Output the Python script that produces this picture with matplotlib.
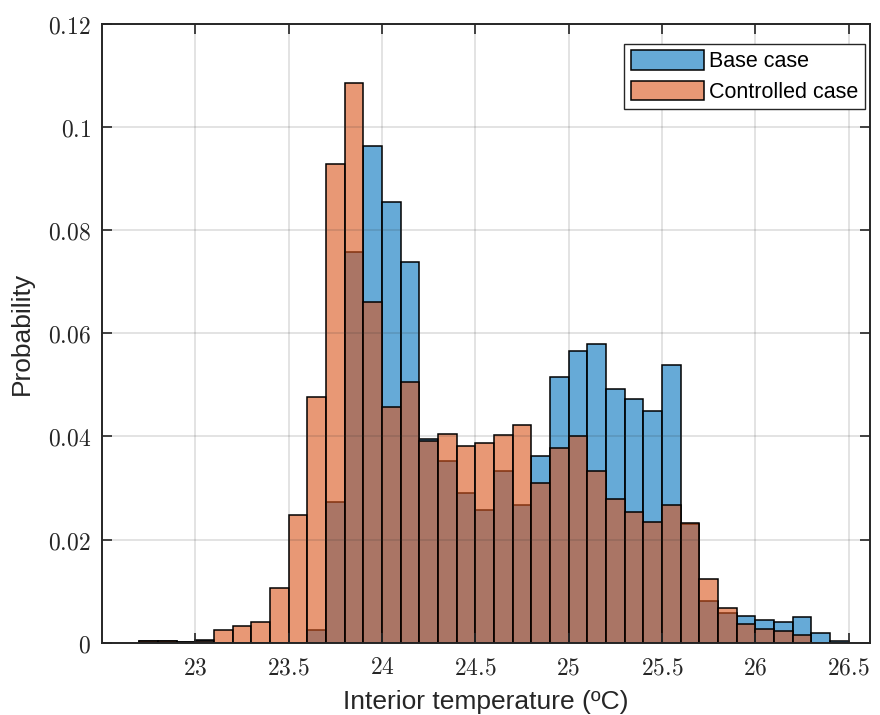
import numpy as np
import matplotlib
matplotlib.use("Agg")
import matplotlib.pyplot as plt
from matplotlib.ticker import FuncFormatter

plt.rcParams["mathtext.fontset"] = "cm"

# histogram bins of width 0.1 degC, left edges from 22.7 to 26.4
bin_edges = np.round(np.arange(22.7, 26.55, 0.1), 1)

base_prob = [
    0.0004, 0.0004, 0.0002, 0.0005, 0.0, 0.0, 0.0, 0.0, 0.0, 0.0025,
    0.0273, 0.0757, 0.0964, 0.0855, 0.0739, 0.0395, 0.0352, 0.0290, 0.0257, 0.0334,
    0.0268, 0.0363, 0.0515, 0.0566, 0.0579, 0.0493, 0.0472, 0.0450, 0.0538, 0.0230,
    0.0080, 0.0058, 0.0051, 0.0045, 0.0040, 0.0049, 0.0019, 0.0003,
]
controlled_prob = [
    0.0003, 0.0003, 0.0002, 0.0004, 0.0025, 0.0032, 0.0041, 0.0107, 0.0248, 0.0476,
    0.0928, 0.1085, 0.0660, 0.0457, 0.0505, 0.0392, 0.0405, 0.0382, 0.0387, 0.0403,
    0.0422, 0.0310, 0.0377, 0.0401, 0.0334, 0.0279, 0.0253, 0.0235, 0.0268, 0.0233,
    0.0124, 0.0067, 0.0037, 0.0026, 0.0023, 0.0014, 0.0, 0.0,
]
labels = ["Base case", "Controlled case"]

x_ticks = [23, 23.5, 24, 24.5, 25, 25.5, 26, 26.5]
y_ticks = [0, 0.02, 0.04, 0.06, 0.08, 0.1, 0.12]

blue = (0.0, 0.447, 0.741, 0.6)
orange = (0.85, 0.325, 0.098, 0.6)
dark = "#262626"

fig = plt.figure(figsize=(8.8, 7.15), dpi=100)
ax = fig.add_axes([0.1159, 0.1011, 0.8727, 0.8653])

lefts = bin_edges[:-1]
widths = np.diff(bin_edges)
ax.bar(lefts, base_prob, width=widths, align="edge", facecolor=blue,
       edgecolor="black", linewidth=1.1, label=labels[0])
ax.bar(lefts, controlled_prob, width=widths, align="edge", facecolor=orange,
       edgecolor="black", linewidth=1.1, label=labels[1])

ax.set_xlim(22.5, 26.615)
ax.set_ylim(0, 0.12)
ax.set_xticks(x_ticks)
ax.set_yticks(y_ticks)


def tex_fmt(v, pos):
    s = ("%.2f" % v).rstrip("0").rstrip(".")
    return "$%s$" % s


ax.xaxis.set_major_formatter(FuncFormatter(tex_fmt))
ax.yaxis.set_major_formatter(FuncFormatter(tex_fmt))
ax.tick_params(direction="in", length=7, width=1.2, colors=dark,
               labelsize=17, top=True, right=True)
ax.tick_params(axis="x", pad=9)
ax.tick_params(axis="y", pad=8)

ax.set_axisbelow(False)
ax.grid(True, color=dark, alpha=0.15, linewidth=1.2)
for sp in ax.spines.values():
    sp.set_color(dark)
    sp.set_linewidth(1.4)

ax.set_xlabel("Interior temperature (ºC)", fontsize=19, family="Liberation Sans",
              color=dark, labelpad=8)
ax.set_ylabel("Probability", fontsize=19, family="Liberation Sans",
              color=dark, labelpad=10)

leg = ax.legend(loc="upper right", bbox_to_anchor=(0.9935, 0.9677),
                borderaxespad=0, prop={"family": "Liberation Sans", "size": 15.5},
                fancybox=False, framealpha=1, edgecolor=dark,
                handlelength=3.4, handleheight=1.0, handletextpad=0.25,
                labelspacing=0.38, borderpad=0.3)
leg.get_frame().set_linewidth(1.0)

fig.savefig("out.png", dpi=100)
